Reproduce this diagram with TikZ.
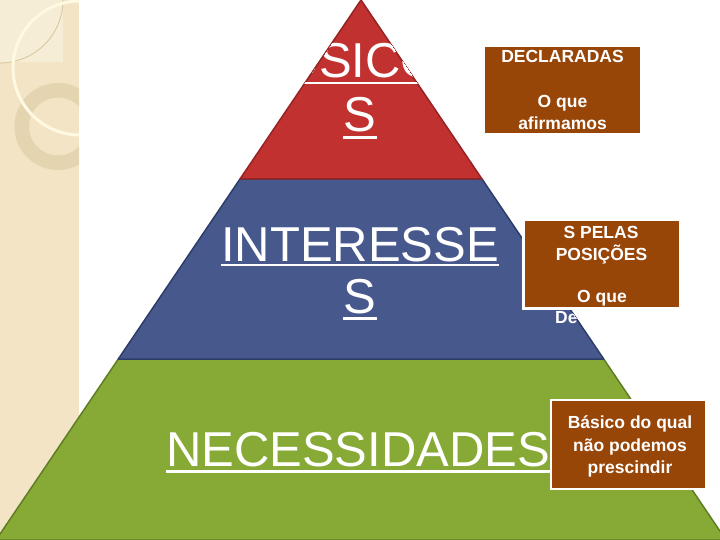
\documentclass[tikz,border=0pt]{standalone}
\usepackage{fontspec}
\setmainfont{Liberation Sans}
\definecolor{beige}{RGB}{242,228,196}
\definecolor{beigelight}{RGB}{246,237,215}
\definecolor{tanline}{RGB}{215,196,155}
\definecolor{tanring}{RGB}{228,212,175}
\definecolor{creamring}{RGB}{255,249,226}
\definecolor{redfill}{RGB}{193,49,48}
\definecolor{rededge}{RGB}{150,35,35}
\definecolor{bluefill}{RGB}{71,89,140}
\definecolor{blueedge}{RGB}{45,60,105}
\definecolor{greenfill}{RGB}{134,170,53}
\definecolor{greenedge}{RGB}{95,125,35}
\definecolor{brownbox}{RGB}{152,69,8}
\tikzset{
  big/.style={text=white, inner sep=0pt, font=\fontsize{49}{55}\selectfont},
  uline/.style={draw=white, line width=2.5pt},
  boxtxt/.style={text=white, inner sep=0pt, font=\bfseries\fontsize{17.5}{21}\selectfont},
  brownbox/.style={rectangle, fill=brownbox, draw=white, inner sep=0pt},
  seg/.style={line width=1.5pt, line join=round}
}
\begin{document}
\begin{tikzpicture}[x=1pt,y=-1pt]
\useasboundingbox (0,0) rectangle (720,540);
% left decorative strip
\begin{scope}
  \clip (0,0) rectangle (79,540);
  \fill[beige] (0,0) rectangle (79,540);
  \fill[beigelight] (0,0) rectangle (63,62);
  \draw[tanline, line width=0.8pt] (63,0) arc[start angle=0, end angle=-90, radius=63pt];
  \draw[tanring, line width=14.5pt] (58,126.5) circle[radius=36.25pt];
  \draw[creamring, line width=3pt] (80,68) circle[radius=67pt];
\end{scope}
% pyramid
\coordinate (A) at (361,0);
\coordinate (BL) at (-4,540);
\coordinate (BR) at (726,540);
\coordinate (L1) at (240,179);
\coordinate (R1) at (482,179);
\coordinate (L2) at (118.3,359);
\coordinate (R2) at (603.7,359);
\filldraw[seg, fill=greenfill, draw=greenedge] (L2) -- (R2) -- (BR) -- (BL) -- cycle;
\filldraw[seg, fill=bluefill, draw=blueedge] (L1) -- (R1) -- (R2) -- (L2) -- cycle;
\filldraw[seg, fill=redfill, draw=rededge] (A) -- (R1) -- (L1) -- cycle;
% texts inside pyramid
\begin{scope}
  \clip (A) -- (BR) -- (BL) -- cycle;
  \node[big, anchor=base] (p1) at (360,78) {POSICÕE};
  \draw[uline] ([yshift=-5pt]p1.base west) -- ([yshift=-5pt]p1.base east);
  \node[big, anchor=base] (p2) at (360,132) {S};
  \draw[uline] ([yshift=-5.5pt]p2.base west) -- ([yshift=-5.5pt]p2.base east);
  \node[big, anchor=base] (i1) at (360,261) {INTERESSE};
  \draw[uline] ([yshift=-4pt]i1.base west) -- ([yshift=-4pt]i1.base east);
  \node[big, anchor=base] (i2) at (360,313) {S};
  \draw[uline] ([yshift=-5.5pt]i2.base west) -- ([yshift=-5.5pt]i2.base east);
  \node[big, anchor=base] (n1) at (358,466) {NECESSIDADES};
  \draw[uline] ([yshift=-5.5pt]n1.base west) -- ([yshift=-5.5pt]n1.base east);
  \node[boxtxt, anchor=base west] (d1) at (555,323) {De};
\end{scope}
% boxes
\node[brownbox, line width=2.5pt, minimum width=157pt, minimum height=88pt] (b1) at (562.5,90) {};
\node[boxtxt, anchor=base] (b1a) at (562.5,63) {DECLARADAS};
\node[boxtxt, anchor=base] (b1b) at (562.5,108) {O que};
\node[boxtxt, anchor=base] (b1c) at (562.5,130) {afirmamos};
\node[brownbox, line width=3pt, minimum width=157pt, minimum height=89pt] (b2) at (602,264) {};
\node[boxtxt, anchor=base] (b2a) at (601,239) {S PELAS};
\node[boxtxt, anchor=base] (b2b) at (601.5,260) {POSIÇÕES};
\node[boxtxt, anchor=base] (b2c) at (602,302) {O que};
\node[brownbox, line width=2.5pt, minimum width=155pt, minimum height=89pt] (b3) at (628.5,444.5) {};
\node[boxtxt, anchor=base] (b3a) at (630,428) {Básico do qual};
\node[boxtxt, anchor=base] (b3b) at (630,451) {não podemos};
\node[boxtxt, anchor=base] (b3c) at (630,473) {prescindir};
\end{tikzpicture}
\end{document}
